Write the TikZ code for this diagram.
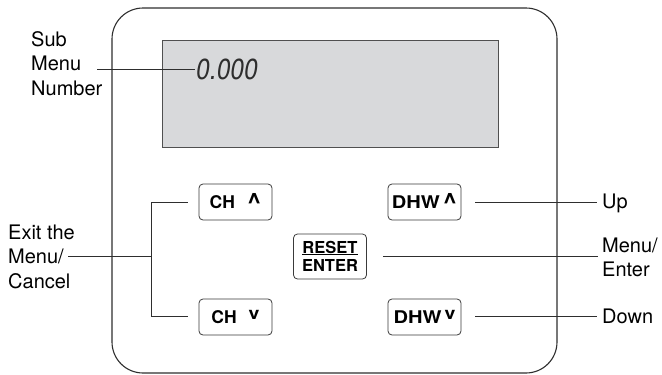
\documentclass[tikz,border=0pt]{standalone}
\usepackage{fontspec}
\setmainfont{TeX Gyre Heros}
\newfontfamily\lcdfont[FakeSlant=0.15,FakeStretch=0.85]{TeX Gyre Heros}
\definecolor{linec}{HTML}{2E2E2E}
\definecolor{scrc}{HTML}{505050}
\definecolor{lcdgray}{HTML}{D8D9DB}
\definecolor{btnc}{HTML}{3A3A3A}
\newcommand{\ulword}[1]{\setbox0\hbox{#1}\rlap{\rule[-1.8pt]{\wd0}{0.9pt}}\box0}
\newcommand{\upmark}{\raisebox{-2.5pt}{\scalebox{1.4}{\textasciicircum}}}
\newcommand{\dnmark}{\raisebox{3.5pt}{\scalebox{1.15}[1]{\fontsize{17}{17}\selectfont v}}}
\begin{document}
\begin{tikzpicture}[x=1pt,y=-1pt,
  frame/.style={draw=linec, line width=1.1pt, rounded corners=31pt},
  screen/.style={draw=scrc, fill=lcdgray, line width=0.9pt},
  btn/.style={draw=btnc, line width=0.8pt, rounded corners=4pt, minimum width=73pt, minimum height=36pt, inner sep=0pt, text=black, font=\fontsize{17.5}{18}\selectfont\bfseries},
  lbl/.style={font=\fontsize{20}{24.5}\selectfont, align=left, inner sep=0pt, text=black},
  lead/.style={draw=linec, line width=0.8pt},
  lcd/.style={font=\lcdfont\fontsize{29}{29}\selectfont, text=linec, inner sep=0pt}]
\useasboundingbox (0,0) rectangle (662,375);
% device
\draw[frame] (112,8) rectangle (557,373);
\draw[screen] (162,40) rectangle (498,147);
\node[lcd, anchor=base west] (digits) at (195,79) {0.000};
% buttons
\node[btn] (chup) at (235.5,202) {CH\hspace{12pt}\upmark};
\node[btn] (chdn) at (235.5,317) {CH\hspace{12pt}\dnmark};
\node[btn] (dhwup) at (424.5,202) {\scalebox{1.15}[1]{DHW}\,\upmark};
\node[btn] (dhwdn) at (424.5,317) {\scalebox{1.15}[1]{DHW}\,\dnmark};
\node[btn, minimum height=45pt, align=center, font=\fontsize{16.5}{18.5}\selectfont\bfseries] (reset) at (330,256.5) {\ulword{RESET}\\ENTER};
% labels
\node[lbl, anchor=west] (sub) at (31,63.6) {Sub\\Menu\\Number};
\node[lbl, anchor=west] (exit) at (8,256.5) {Exit the\\Menu/\\Cancel};
\node[lbl, anchor=base west] (up) at (602,208.5) {Up};
\node[lbl, anchor=west] (menter) at (602,257.4) {Menu/\\Enter};
\node[lbl, anchor=base west] (down) at (602,323) {Down};
% leaders
\coordinate (subend) at (97,69);
\draw[lead] (subend) -- (digits.west |- subend);
\coordinate (exitend) at (68,256);
\coordinate (bm) at (151,256);
\coordinate (bt) at (151,202);
\coordinate (bb) at (151,316);
\draw[lead] (exitend) -- (bm);
\draw[lead] ([xshift=-11pt]chup.west) -- (bt) -- (bb) -- ([xshift=-11pt]chdn.west |- bb);
\coordinate (upend) at (597,202);
\coordinate (mend) at (598,256);
\coordinate (dnend) at (597,316);
\draw[lead] ([xshift=14pt]dhwup.east) -- (upend);
\draw[lead] ([xshift=16pt]reset.east |- mend) -- (mend);
\draw[lead] ([xshift=14pt]dhwdn.east |- dnend) -- (dnend);
\end{tikzpicture}
\end{document}
